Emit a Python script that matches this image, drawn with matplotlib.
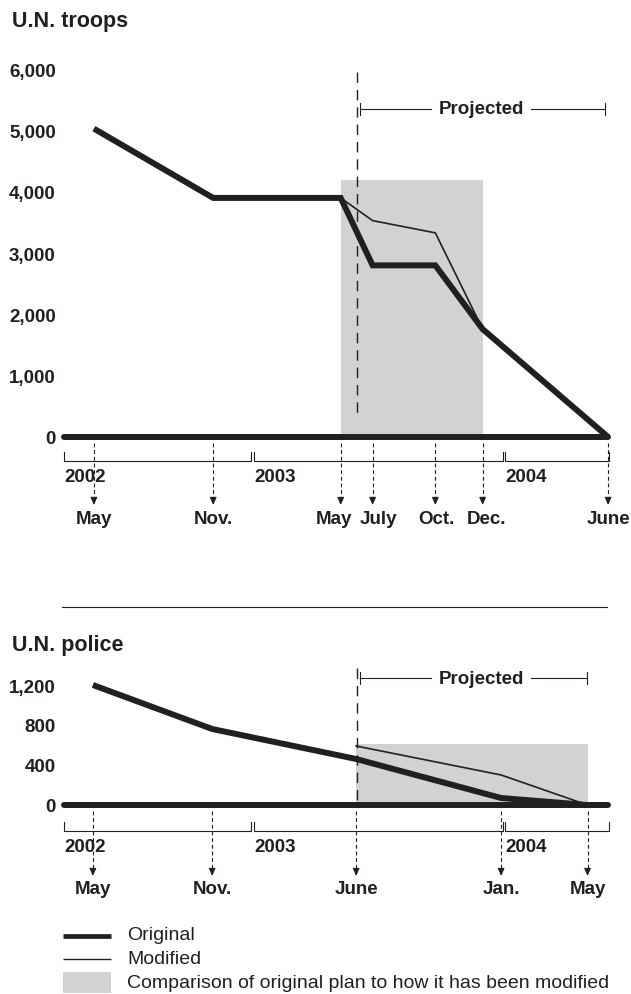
import matplotlib
matplotlib.use('Agg')
import matplotlib.pyplot as plt
from matplotlib import transforms
from matplotlib.lines import Line2D
from matplotlib.patches import Rectangle

plt.rcParams['font.family'] = ['Liberation Sans', 'DejaVu Sans']

W, H, DPI = 631, 995, 100
INK = '#231f20'
SHADE = '#d1d2d4'
LBL = 13.5

# x positions are months since Jan 2002
troop_x = [4.0, 9.8, 16.0, 17.55, 20.6, 22.9, 29.0]
troop_orig = [5030, 3900, 3900, 2800, 2800, 1760, 0]
troop_mod_x = [16.0, 17.55, 20.6, 22.9]
troop_mod = [3900, 3530, 3330, 1760]
troop_labels = ['May', 'Nov.', 'May', 'July', 'Oct.', 'Dec.', 'June']
troop_ticks = [0, 1000, 2000, 3000, 4000, 5000, 6000]
troop_shade = (16.0, 22.9, 4200)

police_x = [3.95, 9.75, 16.75, 23.8, 28.0]
police_orig = [1200, 760, 460, 70, 0]
police_mod_x = [16.75, 23.8, 28.0]
police_mod = [590, 300, 0]
police_labels = ['May', 'Nov.', 'June', 'Jan.', 'May']
police_ticks = [0, 400, 800, 1200]
police_shade = (16.75, 28.0, 610)

years = ['2002', '2003', '2004']
year_spans = [(2.55, 11.65), (11.8, 23.9), (24.0, 29.05)]
now_x = 16.78
proj_text_x = 22.86

fig = plt.figure(figsize=(W / DPI, H / DPI), dpi=DPI)
# pixel (from top-left) transform for layout bits
ptr = transforms.Affine2D().scale(1 / DPI, -1 / DPI).translate(0, H / DPI) + fig.dpi_scale_trans
ytr = transforms.Affine2D().scale(1, -1 / DPI).translate(0, H / DPI) + fig.dpi_scale_trans


def make_panel(base, k, ylo, yhi, ticks):
    top = base - yhi * k
    bot = base - ylo * k
    ax = fig.add_axes([60 / W, 1 - bot / H, 552 / W, (bot - top) / H])
    ax.set_xlim(2.35, 29.19)
    ax.set_ylim(ylo, yhi)
    ax.patch.set_visible(False)
    for s in ax.spines.values():
        s.set_visible(False)
    ax.set_xticks([])
    ax.set_yticks(ticks)
    ax.set_yticklabels([f'{t:,}' for t in ticks], fontsize=LBL, fontweight='bold', color=INK)
    ax.tick_params(axis='y', length=0, pad=3)
    return ax


def draw(ax, xs, orig, mod_x, mod, shade, labels, base, dy, proj, now_top, now_bot, proj_y):
    bt = transforms.blended_transform_factory(ax.transData, ytr)
    ax.add_patch(Rectangle((shade[0], 0), shade[1] - shade[0], shade[2],
                           facecolor=SHADE, edgecolor='none', zorder=1))
    ax.plot([year_spans[0][0], 29.0], [0, 0], color=INK, lw=4.3,
            solid_capstyle='round', zorder=3, clip_on=False)
    ax.plot(mod_x, mod, color=INK, lw=1.2, zorder=4, clip_on=False)
    ax.plot(xs, orig, color=INK, lw=4.3, solid_joinstyle='miter', solid_capstyle='butt',
            zorder=5, clip_on=False)
    # "now" line
    ax.plot([now_x, now_x], [now_top, now_bot], transform=bt, color=INK, lw=1.0,
            ls=(0, (7.5, 5)), clip_on=False, zorder=2)
    # projected bracket
    ax.plot([proj[0], proj[1]], [proj_y, proj_y], transform=bt, color=INK, lw=0.8, clip_on=False)
    for px in proj:
        ax.plot([px, px], [proj_y - 6, proj_y + 6], transform=bt, color=INK, lw=0.8, clip_on=False)
    ax.text(proj_text_x, proj_y, 'Projected', transform=bt, ha='center', va='center',
            fontsize=LBL, fontweight='bold', color=INK,
            bbox=dict(facecolor='white', edgecolor='none', pad=5))
    # year brackets
    for (a, b), yr in zip(year_spans, years):
        ax.plot([a, a, b, b], [base + dy[0] - 9, base + dy[0], base + dy[0], base + dy[0] - 9],
                transform=bt, color=INK, lw=0.8, clip_on=False)
        ax.text(a + 0.02, base + dy[1], yr, transform=bt, ha='left', va='center',
                fontsize=LBL, fontweight='bold', color=INK)
    # month arrows
    for x in xs:
        ax.plot([x, x], [base + 6, base + dy[2] - 5], transform=bt, color=INK, lw=0.8,
                ls=(0, (3.5, 2.5)), clip_on=False)
        ax.annotate('', xy=(x, base + dy[2]), xycoords=bt, xytext=(x, base + dy[2] - 6),
                    textcoords=bt,
                    arrowprops=dict(arrowstyle='-|>,head_length=0.45,head_width=0.2',
                                    color=INK, lw=0.8, shrinkA=0, shrinkB=0))
    return bt


# ---- U.N. troops ----
base1, k1 = 438, 0.0613
ax1 = make_panel(base1, k1, -200, 6400, troop_ticks)
bt1 = draw(ax1, troop_x, troop_orig, troop_mod_x, troop_mod, troop_shade, troop_labels,
           base1, (24, 39, 68), (16.95, 28.85), 73, 418, 110)
nudge1 = [0, 0, -0.35, 0.3, 0.05, 0.2, 0]
for x, lab, n in zip(troop_x, troop_labels, nudge1):
    ax1.text(x + n, base1 + 81, lab, transform=bt1, ha='center', va='center',
             fontsize=LBL, fontweight='bold', color=INK)

# ---- U.N. police ----
base2, k2 = 806, 0.1
ax2 = make_panel(base2, k2, -100, 1400, police_ticks)
bt2 = draw(ax2, police_x, police_orig, police_mod_x, police_mod, police_shade, police_labels,
           base2, (26, 42, 71), (16.95, 27.98), 669, 806, 679)
for x, lab in zip(police_x, police_labels):
    ax2.text(x, base2 + 84, lab, transform=bt2, ha='center', va='center',
             fontsize=LBL, fontweight='bold', color=INK)

# titles
fig.text(12, 22, 'U.N. troops', transform=ptr, ha='left', va='center',
         fontsize=15.5, fontweight='bold', color=INK)
fig.text(12, 645, 'U.N. police', transform=ptr, ha='left', va='center',
         fontsize=15.5, fontweight='bold', color=INK)

# separator
fig.add_artist(Line2D([62, 607], [608, 608], transform=ptr, color=INK, lw=0.8))

# legend
fig.add_artist(Line2D([63, 111], [937, 937], transform=ptr, color=INK, lw=3.4, solid_capstyle='butt'))
fig.add_artist(Line2D([63, 111], [960, 960], transform=ptr, color=INK, lw=1.0, solid_capstyle='butt'))
fig.add_artist(Rectangle((63, 973), 48, 21, transform=ptr, facecolor=SHADE, edgecolor='none'))
for yy, txt in [(936, 'Original'), (959, 'Modified'),
                (983, 'Comparison of original plan to how it has been modified')]:
    fig.text(127, yy, txt, transform=ptr, ha='left', va='center', fontsize=14, color=INK)

fig.savefig('out.png', dpi=DPI)
